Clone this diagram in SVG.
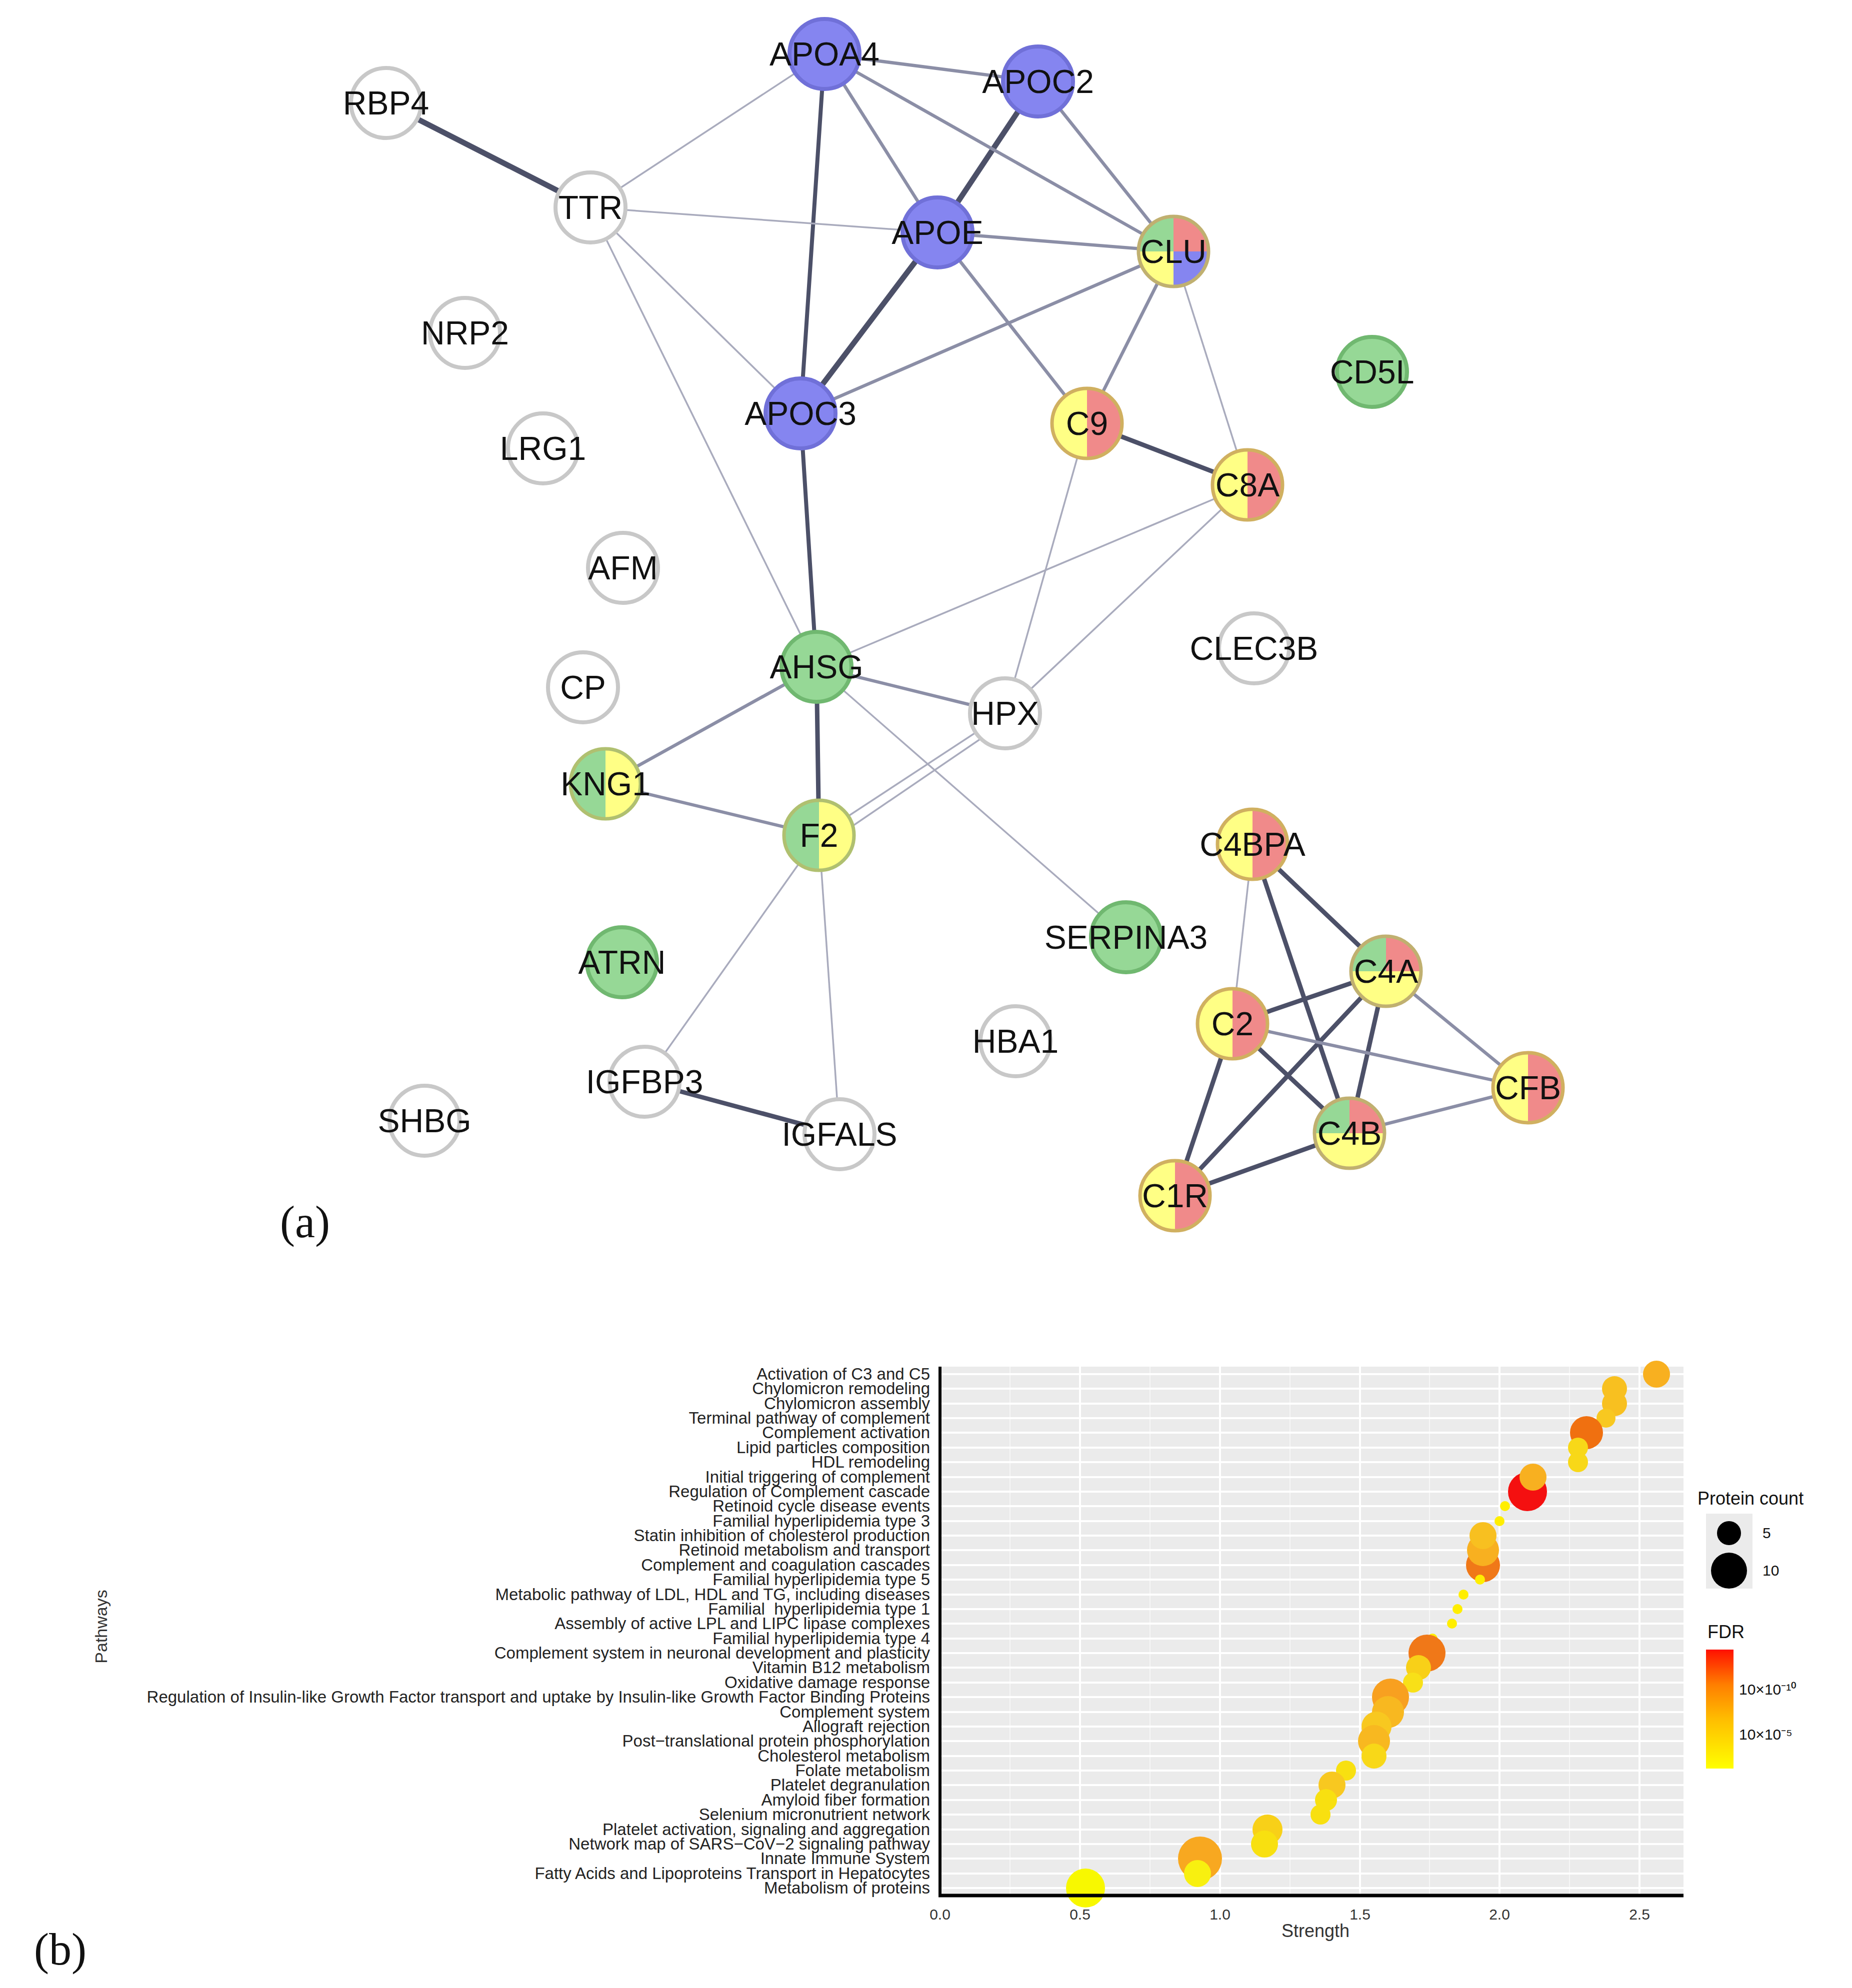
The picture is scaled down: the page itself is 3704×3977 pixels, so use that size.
<svg xmlns="http://www.w3.org/2000/svg" width="3704" height="3977" viewBox="0 0 3704 3977">
<style>
.nl{font-family:"Liberation Sans",Arial,sans-serif;font-size:66px;text-anchor:middle;fill:#111}
.n{stroke:#c8c8c8;stroke-width:8;fill:#fff}
.e1{stroke:#4c5068;stroke-width:11;stroke-linecap:round}
.e2{stroke:#8b8ea6;stroke-width:6.5}
.e3{stroke:#a9abbd;stroke-width:3.5}
.pl{font-family:"Liberation Sans",Arial,sans-serif;font-size:33px;text-anchor:end;fill:#222}
.tk{font-family:"Liberation Sans",Arial,sans-serif;font-size:30px;text-anchor:middle;fill:#333}
.lg{font-family:"Liberation Sans",Arial,sans-serif;font-size:36px;fill:#111}
.cap{font-family:"Liberation Serif","Times New Roman",serif;font-size:90px;fill:#111}
</style>
<defs>
<linearGradient id="fdr" x1="0" y1="1" x2="0" y2="0"><stop offset="0" stop-color="#ffff00"/><stop offset="0.4" stop-color="#ffc000"/><stop offset="0.7" stop-color="#ff8000"/><stop offset="1" stop-color="#ff1000"/></linearGradient>
</defs>
<rect width="3704" height="3977" fill="#fff"/>
<g id="connectors">
<line class="e1" x1="772" y1="206" x2="1181" y2="415"/>
<line class="e1" x1="2076" y1="163" x2="1875" y2="465"/>
<line class="e1" x1="1875" y1="465" x2="1601" y2="827"/>
<line class="e1" x1="1649" y1="108" x2="1601" y2="827" style="stroke-width:8"/>
<line class="e1" x1="1601" y1="827" x2="1633" y2="1334" style="stroke-width:8"/>
<line class="e1" x1="1633" y1="1334" x2="1638" y2="1671" style="stroke-width:9"/>
<line class="e1" x1="1289" y1="2164" x2="1679" y2="2269" style="stroke-width:9"/>
<line class="e1" x1="2174" y1="847" x2="2495" y2="970" style="stroke-width:9"/>
<line class="e1" x1="2505" y1="1689" x2="2772" y2="1943" style="stroke-width:9"/>
<line class="e1" x1="2505" y1="1689" x2="2699" y2="2267" style="stroke-width:9"/>
<line class="e1" x1="2465" y1="2048" x2="2772" y2="1943" style="stroke-width:9"/>
<line class="e1" x1="2465" y1="2048" x2="2699" y2="2267" style="stroke-width:9"/>
<line class="e1" x1="2465" y1="2048" x2="2350" y2="2392" style="stroke-width:9"/>
<line class="e1" x1="2772" y1="1943" x2="2699" y2="2267" style="stroke-width:9"/>
<line class="e1" x1="2772" y1="1943" x2="2350" y2="2392" style="stroke-width:9"/>
<line class="e1" x1="2350" y1="2392" x2="2699" y2="2267" style="stroke-width:9"/>
<line class="e2" x1="1649" y1="108" x2="2076" y2="163"/>
<line class="e2" x1="1649" y1="108" x2="1875" y2="465"/>
<line class="e2" x1="1649" y1="108" x2="2347" y2="503"/>
<line class="e2" x1="2076" y1="163" x2="2347" y2="503"/>
<line class="e2" x1="1875" y1="465" x2="2347" y2="503"/>
<line class="e2" x1="1601" y1="827" x2="2347" y2="503"/>
<line class="e2" x1="1875" y1="465" x2="2174" y2="847"/>
<line class="e2" x1="2347" y1="503" x2="2174" y2="847"/>
<line class="e2" x1="1633" y1="1334" x2="2010" y2="1427"/>
<line class="e2" x1="1633" y1="1334" x2="1211" y2="1568"/>
<line class="e2" x1="1211" y1="1568" x2="1638" y2="1671"/>
<line class="e2" x1="2772" y1="1943" x2="3056" y2="2176"/>
<line class="e2" x1="2465" y1="2048" x2="3056" y2="2176"/>
<line class="e2" x1="2699" y1="2267" x2="3056" y2="2176"/>
<line class="e3" x1="1181" y1="415" x2="1649" y2="108"/>
<line class="e3" x1="1181" y1="415" x2="1875" y2="465"/>
<line class="e3" x1="1181" y1="415" x2="1601" y2="827"/>
<line class="e3" x1="1181" y1="415" x2="1633" y2="1334"/>
<line class="e3" x1="2347" y1="503" x2="2495" y2="970"/>
<line class="e3" x1="2174" y1="847" x2="2010" y2="1427"/>
<line class="e3" x1="2495" y1="970" x2="1633" y2="1334"/>
<line class="e3" x1="2495" y1="970" x2="2010" y2="1427"/>
<line class="e3" x1="2010" y1="1427" x2="1638" y2="1671"/>
<line class="e3" x1="1995" y1="1455" x2="1650" y2="1690"/>
<line class="e3" x1="1633" y1="1334" x2="2252" y2="1875"/>
<line class="e3" x1="1638" y1="1671" x2="1289" y2="2164"/>
<line class="e3" x1="1638" y1="1671" x2="1679" y2="2269"/>
<line class="e3" x1="2505" y1="1689" x2="2465" y2="2048"/>
</g>
<g id="node-APOA4"><circle cx="1649" cy="108" r="70" class="n" style="fill:#8585f0;stroke:#7070d8"/><text class="nl" x="1649" y="131">APOA4</text></g>
<g id="node-APOC2"><circle cx="2076" cy="163" r="70" class="n" style="fill:#8585f0;stroke:#7070d8"/><text class="nl" x="2076" y="186">APOC2</text></g>
<g id="node-APOE"><circle cx="1875" cy="465" r="70" class="n" style="fill:#8585f0;stroke:#7070d8"/><text class="nl" x="1875" y="488">APOE</text></g>
<g id="node-APOC3"><circle cx="1601" cy="827" r="70" class="n" style="fill:#8585f0;stroke:#7070d8"/><text class="nl" x="1601" y="850">APOC3</text></g>
<g id="node-RBP4"><circle cx="772" cy="206" r="70" class="n"/><text class="nl" x="772" y="229">RBP4</text></g>
<g id="node-TTR"><circle cx="1181" cy="415" r="70" class="n"/><text class="nl" x="1181" y="438">TTR</text></g>
<g id="node-NRP2"><circle cx="930" cy="666" r="70" class="n"/><text class="nl" x="930" y="689">NRP2</text></g>
<g id="node-LRG1"><circle cx="1086" cy="897" r="70" class="n"/><text class="nl" x="1086" y="920">LRG1</text></g>
<g id="node-AFM"><circle cx="1246" cy="1136" r="70" class="n"/><text class="nl" x="1246" y="1159">AFM</text></g>
<g id="node-CP"><circle cx="1166" cy="1375" r="70" class="n"/><text class="nl" x="1166" y="1398">CP</text></g>
<g id="node-HPX"><circle cx="2010" cy="1427" r="70" class="n"/><text class="nl" x="2010" y="1450">HPX</text></g>
<g id="node-CLEC3B"><circle cx="2508" cy="1297" r="70" class="n"/><text class="nl" x="2508" y="1320">CLEC3B</text></g>
<g id="node-HBA1"><circle cx="2031" cy="2083" r="70" class="n"/><text class="nl" x="2031" y="2106">HBA1</text></g>
<g id="node-IGFBP3"><circle cx="1289" cy="2164" r="70" class="n"/><text class="nl" x="1289" y="2187">IGFBP3</text></g>
<g id="node-IGFALS"><circle cx="1679" cy="2269" r="70" class="n"/><text class="nl" x="1679" y="2292">IGFALS</text></g>
<g id="node-SHBG"><circle cx="849" cy="2242" r="70" class="n"/><text class="nl" x="849" y="2265">SHBG</text></g>
<g id="node-CD5L"><circle cx="2744" cy="744" r="70" class="n" style="fill:#96d896;stroke:#70b870"/><text class="nl" x="2744" y="767">CD5L</text></g>
<g id="node-AHSG"><circle cx="1633" cy="1334" r="70" class="n" style="fill:#96d896;stroke:#70b870"/><text class="nl" x="1633" y="1357">AHSG</text></g>
<g id="node-SERPINA3"><circle cx="2252" cy="1875" r="70" class="n" style="fill:#96d896;stroke:#70b870"/><text class="nl" x="2252" y="1898">SERPINA3</text></g>
<g id="node-ATRN"><circle cx="1244" cy="1925" r="70" class="n" style="fill:#96d896;stroke:#70b870"/><text class="nl" x="1244" y="1948">ATRN</text></g>
<g id="node-CLU"><path d="M2347 503 L2347 433 A70 70 0 0 0 2277 503Z" fill="#96d896"/><path d="M2347 503 L2347 433 A70 70 0 0 1 2417 503Z" fill="#f08a8a"/><path d="M2347 503 L2277 503 A70 70 0 0 0 2347 573Z" fill="#ffff85"/><path d="M2347 503 L2417 503 A70 70 0 0 1 2347 573Z" fill="#8585f0"/><circle cx="2347" cy="503" r="70" fill="none" stroke="#c0b070" stroke-width="7"/><text class="nl" x="2347" y="526">CLU</text></g>
<g id="node-C9"><path d="M2174 777 A70 70 0 0 0 2174 917Z" fill="#ffff85"/><path d="M2174 777 A70 70 0 0 1 2174 917Z" fill="#f08a8a"/><circle cx="2174" cy="847" r="70" fill="none" stroke="#d0b060" stroke-width="7"/><text class="nl" x="2174" y="870">C9</text></g>
<g id="node-C8A"><path d="M2495 900 A70 70 0 0 0 2495 1040Z" fill="#ffff85"/><path d="M2495 900 A70 70 0 0 1 2495 1040Z" fill="#f08a8a"/><circle cx="2495" cy="970" r="70" fill="none" stroke="#d0b060" stroke-width="7"/><text class="nl" x="2495" y="993">C8A</text></g>
<g id="node-KNG1"><path d="M1211 1498 A70 70 0 0 0 1211 1638Z" fill="#96d896"/><path d="M1211 1498 A70 70 0 0 1 1211 1638Z" fill="#ffff85"/><circle cx="1211" cy="1568" r="70" fill="none" stroke="#b0c070" stroke-width="7"/><text class="nl" x="1211" y="1591">KNG1</text></g>
<g id="node-F2"><path d="M1638 1601 A70 70 0 0 0 1638 1741Z" fill="#96d896"/><path d="M1638 1601 A70 70 0 0 1 1638 1741Z" fill="#ffff85"/><circle cx="1638" cy="1671" r="70" fill="none" stroke="#b0c070" stroke-width="7"/><text class="nl" x="1638" y="1694">F2</text></g>
<g id="node-C4BPA"><path d="M2505 1619 A70 70 0 0 0 2505 1759Z" fill="#ffff85"/><path d="M2505 1619 A70 70 0 0 1 2505 1759Z" fill="#f08a8a"/><circle cx="2505" cy="1689" r="70" fill="none" stroke="#d0b060" stroke-width="7"/><text class="nl" x="2505" y="1712">C4BPA</text></g>
<g id="node-C4A"><path d="M2772 1943 L2702 1943 A70 70 0 0 1 2772 1873Z" fill="#96d896"/><path d="M2772 1943 L2772 1873 A70 70 0 0 1 2842 1943Z" fill="#f08a8a"/><path d="M2702 1943 A70 70 0 0 0 2842 1943Z" fill="#ffff85"/><circle cx="2772" cy="1943" r="70" fill="none" stroke="#c0b070" stroke-width="7"/><text class="nl" x="2772" y="1966">C4A</text></g>
<g id="node-C2"><path d="M2465 1978 A70 70 0 0 0 2465 2118Z" fill="#ffff85"/><path d="M2465 1978 A70 70 0 0 1 2465 2118Z" fill="#f08a8a"/><circle cx="2465" cy="2048" r="70" fill="none" stroke="#d0b060" stroke-width="7"/><text class="nl" x="2465" y="2071">C2</text></g>
<g id="node-CFB"><path d="M3056 2106 A70 70 0 0 0 3056 2246Z" fill="#ffff85"/><path d="M3056 2106 A70 70 0 0 1 3056 2246Z" fill="#f08a8a"/><circle cx="3056" cy="2176" r="70" fill="none" stroke="#d0b060" stroke-width="7"/><text class="nl" x="3056" y="2199">CFB</text></g>
<g id="node-C4B"><path d="M2699 2267 L2629 2267 A70 70 0 0 1 2699 2197Z" fill="#96d896"/><path d="M2699 2267 L2699 2197 A70 70 0 0 1 2769 2267Z" fill="#f08a8a"/><path d="M2629 2267 A70 70 0 0 0 2769 2267Z" fill="#ffff85"/><circle cx="2699" cy="2267" r="70" fill="none" stroke="#c0b070" stroke-width="7"/><text class="nl" x="2699" y="2290">C4B</text></g>
<g id="node-C1R"><path d="M2350 2322 A70 70 0 0 0 2350 2462Z" fill="#ffff85"/><path d="M2350 2322 A70 70 0 0 1 2350 2462Z" fill="#f08a8a"/><circle cx="2350" cy="2392" r="70" fill="none" stroke="#d0b060" stroke-width="7"/><text class="nl" x="2350" y="2415">C1R</text></g>
<text class="cap" x="560" y="2475">(a)</text>
<text class="cap" x="68" y="3930">(b)</text>
<g id="chart">
<rect x="1880" y="2734" width="1487" height="1056" fill="#ebebeb"/>
<g stroke="#f6f6f6" stroke-width="2">
<line x1="2020" y1="2734" x2="2020" y2="3790"/><line x1="2300" y1="2734" x2="2300" y2="3790"/><line x1="2580" y1="2734" x2="2580" y2="3790"/><line x1="2859" y1="2734" x2="2859" y2="3790"/><line x1="3139" y1="2734" x2="3139" y2="3790"/>
</g>
<g stroke="#fff" stroke-width="4">
<line x1="2160" y1="2734" x2="2160" y2="3790"/><line x1="2440" y1="2734" x2="2440" y2="3790"/><line x1="2720" y1="2734" x2="2720" y2="3790"/><line x1="2999" y1="2734" x2="2999" y2="3790"/><line x1="3279" y1="2734" x2="3279" y2="3790"/>
</g>
<g id="rows" stroke="#fff" stroke-width="4">
<line x1="1880" x2="3367" y1="2749" y2="2749"/><line x1="1880" x2="3367" y1="2778" y2="2778"/><line x1="1880" x2="3367" y1="2808" y2="2808"/><line x1="1880" x2="3367" y1="2837" y2="2837"/><line x1="1880" x2="3367" y1="2866" y2="2866"/><line x1="1880" x2="3367" y1="2896" y2="2896"/><line x1="1880" x2="3367" y1="2925" y2="2925"/><line x1="1880" x2="3367" y1="2955" y2="2955"/><line x1="1880" x2="3367" y1="2984" y2="2984"/><line x1="1880" x2="3367" y1="3013" y2="3013"/><line x1="1880" x2="3367" y1="3043" y2="3043"/><line x1="1880" x2="3367" y1="3072" y2="3072"/><line x1="1880" x2="3367" y1="3101" y2="3101"/><line x1="1880" x2="3367" y1="3131" y2="3131"/><line x1="1880" x2="3367" y1="3160" y2="3160"/><line x1="1880" x2="3367" y1="3190" y2="3190"/><line x1="1880" x2="3367" y1="3219" y2="3219"/><line x1="1880" x2="3367" y1="3248" y2="3248"/><line x1="1880" x2="3367" y1="3278" y2="3278"/><line x1="1880" x2="3367" y1="3307" y2="3307"/><line x1="1880" x2="3367" y1="3336" y2="3336"/><line x1="1880" x2="3367" y1="3366" y2="3366"/><line x1="1880" x2="3367" y1="3395" y2="3395"/><line x1="1880" x2="3367" y1="3425" y2="3425"/><line x1="1880" x2="3367" y1="3454" y2="3454"/><line x1="1880" x2="3367" y1="3483" y2="3483"/><line x1="1880" x2="3367" y1="3513" y2="3513"/><line x1="1880" x2="3367" y1="3542" y2="3542"/><line x1="1880" x2="3367" y1="3571" y2="3571"/><line x1="1880" x2="3367" y1="3601" y2="3601"/><line x1="1880" x2="3367" y1="3630" y2="3630"/><line x1="1880" x2="3367" y1="3660" y2="3660"/><line x1="1880" x2="3367" y1="3689" y2="3689"/><line x1="1880" x2="3367" y1="3718" y2="3718"/><line x1="1880" x2="3367" y1="3748" y2="3748"/><line x1="1880" x2="3367" y1="3777" y2="3777"/>
</g>
<g id="points">
<circle cx="3313" cy="2749" r="27" fill="#f8b020"/>
<circle cx="3229" cy="2778" r="25" fill="#f8c020"/>
<circle cx="3229" cy="2808" r="25" fill="#f8c020"/>
<circle cx="3212" cy="2837" r="19" fill="#f8c820"/>
<circle cx="3173" cy="2866" r="33" fill="#f07010"/>
<circle cx="3156" cy="2896" r="20" fill="#f8d818"/>
<circle cx="3156" cy="2925" r="20" fill="#f8d818"/>
<circle cx="3055" cy="2984" r="39" fill="#f41010"/>
<circle cx="3066" cy="2955" r="27" fill="#f8b020"/>
<circle cx="3010" cy="3013" r="10" fill="#ffee00"/>
<circle cx="2999" cy="3043" r="10" fill="#ffee00"/>
<circle cx="2966" cy="3131" r="34" fill="#f07818"/>
<circle cx="2966" cy="3101" r="32" fill="#f8b020"/>
<circle cx="2966" cy="3072" r="27" fill="#f8c020"/>
<circle cx="2960" cy="3160" r="10" fill="#ffee00"/>
<circle cx="2927" cy="3190" r="10" fill="#ffee00"/>
<circle cx="2915" cy="3219" r="10" fill="#ffee00"/>
<circle cx="2904" cy="3248" r="10" fill="#ffee00"/>
<circle cx="2865" cy="3278" r="10" fill="#ffee00"/>
<circle cx="2854" cy="3307" r="37" fill="#f07818"/>
<circle cx="2837" cy="3336" r="25" fill="#f8d018"/>
<circle cx="2826" cy="3366" r="20" fill="#f8e018"/>
<circle cx="2781" cy="3395" r="37" fill="#f8a020"/>
<circle cx="2776" cy="3425" r="32" fill="#f8b820"/>
<circle cx="2753" cy="3454" r="30" fill="#f8c820"/>
<circle cx="2748" cy="3483" r="32" fill="#f8b820"/>
<circle cx="2748" cy="3513" r="25" fill="#f8d818"/>
<circle cx="2692" cy="3542" r="20" fill="#f8e010"/>
<circle cx="2664" cy="3571" r="27" fill="#f8c820"/>
<circle cx="2652" cy="3601" r="22" fill="#f8e010"/>
<circle cx="2641" cy="3630" r="20" fill="#f8e010"/>
<circle cx="2535" cy="3660" r="30" fill="#f8d018"/>
<circle cx="2529" cy="3689" r="27" fill="#f8e010"/>
<circle cx="2400" cy="3718" r="44" fill="#f8a820"/>
<circle cx="2395" cy="3748" r="27" fill="#f8f010"/>
<circle cx="2171" cy="3777" r="39" fill="#f8f800"/>
</g>
<line x1="1880" y1="2734" x2="1880" y2="3792" stroke="#000" stroke-width="6"/>
<line x1="1877" y1="3792" x2="3367" y2="3792" stroke="#000" stroke-width="7"/>
<g class="tk"><text x="1880" y="3840">0.0</text><text x="2160" y="3840">0.5</text><text x="2440" y="3840">1.0</text><text x="2720" y="3840">1.5</text><text x="2999" y="3840">2.0</text><text x="3279" y="3840">2.5</text></g>
<text class="tk" x="2631" y="3875" style="font-size:36px">Strength</text>
<text class="tk" transform="translate(214,3254) rotate(-90)" style="font-size:34px">Pathways</text>
<g class="pl">
<text x="1860" y="2760">Activation of C3 and C5</text>
<text x="1860" y="2789">Chylomicron remodeling</text>
<text x="1860" y="2819">Chylomicron assembly</text>
<text x="1860" y="2848">Terminal pathway of complement</text>
<text x="1860" y="2877">Complement activation</text>
<text x="1860" y="2907">Lipid particles composition</text>
<text x="1860" y="2936">HDL remodeling</text>
<text x="1860" y="2966">Initial triggering of complement</text>
<text x="1860" y="2995">Regulation of Complement cascade</text>
<text x="1860" y="3024">Retinoid cycle disease events</text>
<text x="1860" y="3054">Familial hyperlipidemia type 3</text>
<text x="1860" y="3083">Statin inhibition of cholesterol production</text>
<text x="1860" y="3112">Retinoid metabolism and transport</text>
<text x="1860" y="3142">Complement and coagulation cascades</text>
<text x="1860" y="3171">Familial hyperlipidemia type 5</text>
<text x="1860" y="3201">Metabolic pathway of LDL, HDL and TG, including diseases</text>
<text x="1860" y="3230" xml:space="preserve">Familial  hyperlipidemia type 1</text>
<text x="1860" y="3259">Assembly of active LPL and LIPC lipase complexes</text>
<text x="1860" y="3289">Familial hyperlipidemia type 4</text>
<text x="1860" y="3318">Complement system in neuronal development and plasticity</text>
<text x="1860" y="3347">Vitamin B12 metabolism</text>
<text x="1860" y="3377">Oxidative damage response</text>
<text x="1860" y="3406">Regulation of Insulin-like Growth Factor transport and uptake by Insulin-like Growth Factor Binding Proteins</text>
<text x="1860" y="3436">Complement system</text>
<text x="1860" y="3465">Allograft rejection</text>
<text x="1860" y="3494">Post−translational protein phosphorylation</text>
<text x="1860" y="3524">Cholesterol metabolism</text>
<text x="1860" y="3553">Folate metabolism</text>
<text x="1860" y="3582">Platelet degranulation</text>
<text x="1860" y="3612">Amyloid fiber formation</text>
<text x="1860" y="3641">Selenium micronutrient network</text>
<text x="1860" y="3671">Platelet activation, signaling and aggregation</text>
<text x="1860" y="3700">Network map of SARS−CoV−2 signaling pathway</text>
<text x="1860" y="3729">Innate Immune System</text>
<text x="1860" y="3759">Fatty Acids and Lipoproteins Transport in Hepatocytes</text>
<text x="1860" y="3788">Metabolism of proteins</text>
</g>
</g>
<g id="legend">
<text class="lg" x="3395" y="3010">Protein count</text>
<rect x="3412" y="3028" width="93" height="150" fill="#ebebeb"/>
<circle cx="3458" cy="3067" r="24" fill="#000"/>
<circle cx="3458" cy="3142" r="36" fill="#000"/>
<text class="lg" x="3525" y="3077" style="font-size:30px">5</text>
<text class="lg" x="3525" y="3152" style="font-size:30px">10</text>
<text class="lg" x="3415" y="3277">FDR</text>
<rect x="3412" y="3300" width="55" height="238" fill="url(#fdr)"/>
<text class="lg" x="3478" y="3390" style="font-size:30px">10×10⁻¹⁰</text>
<text class="lg" x="3478" y="3480" style="font-size:30px">10×10⁻⁵</text>
</g>
</svg>
